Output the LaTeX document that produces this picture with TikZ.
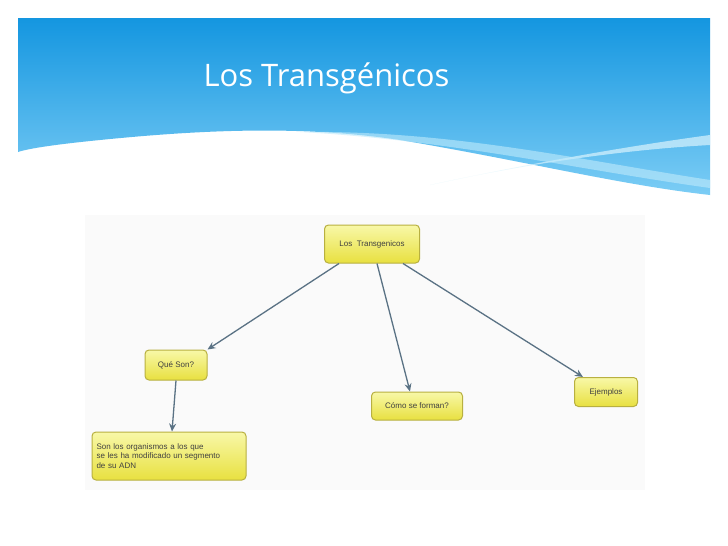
\documentclass[tikz,border=0pt]{standalone}
\usepackage{fontspec}
\usetikzlibrary{arrows.meta}
\setmainfont{Open Sans}
\newfontfamily\arialf{Liberation Sans}
\definecolor{hdtop}{HTML}{1496E0}
\definecolor{hdbot}{HTML}{7CCDF5}
\definecolor{arrc}{HTML}{5A7284}
\definecolor{boxt}{HTML}{F8F8A8}
\definecolor{boxb}{HTML}{E8E040}
\definecolor{boxd}{HTML}{B8B040}
\begin{document}
\begin{tikzpicture}[x=1pt,y=-1pt,
  box/.style={draw=boxd, rounded corners=4pt, top color=boxt, bottom color=boxb, line width=1pt, font=\arialf\fontsize{8}{9.5}\selectfont, text=black!75},
  arr/.style={draw=arrc, line width=1.3pt, -{Stealth[length=8pt,width=7pt]}}]
\useasboundingbox (0,0) rectangle (728,546);
\fill[white] (0,0) rectangle (728,546);
% header
\shade[top color=hdtop, bottom color=hdbot]
  (18,18) -- (710,18) -- (710,195) .. controls (620,185) and (520,160) .. (400,140)
  .. controls (300,125) and (200,130) .. (100,140) .. controls (60,144) and (30,148) .. (18,152) -- cycle;
\fill[cyan!15!white, opacity=0.7] (710,135) .. controls (600,150) and (500,170) .. (430,185) .. controls (520,165) and (620,150) .. (710,145) -- cycle;
\fill[cyan!25!white, opacity=0.6] (300,132) .. controls (450,130) and (580,160) .. (710,180) -- (710,188) .. controls (580,170) and (450,140) .. (300,132) -- cycle;
\node[anchor=west, text=white, font=\fontsize{31}{36}\selectfont] (title) at (200,78) {Los Transgénicos};
% panel
\fill[black!2] (85,215) rectangle (645,490);
\node[box, minimum width=95pt, minimum height=38pt] (lt) at (372,244) {Los\ \ Transgenicos};
\node[box, minimum width=62pt, minimum height=30pt] (qs) at (176,365) {Qué Son?};
\node[box, minimum width=154pt, minimum height=48pt, align=left, text width=145pt] (sl) at (169,456) {Son los organismos a los que\\se les ha modificado un segmento\\de su ADN};
\node[box, minimum width=91pt, minimum height=28pt] (cf) at (417,406) {Cómo se forman?};
\node[box, minimum width=63pt, minimum height=29pt] (ej) at (606,392) {Ejemplos};
\draw[arr] ([xshift=15pt]lt.south west) -- (qs.north east);
\draw[arr] ([xshift=5pt]lt.south) -- ([xshift=-7pt]cf.north);
\draw[arr] ([xshift=31pt]lt.south) -- ([xshift=-23pt]ej.north);
\draw[arr] (qs.south) -- ([xshift=3pt]sl.north);
\end{tikzpicture}
\end{document}
